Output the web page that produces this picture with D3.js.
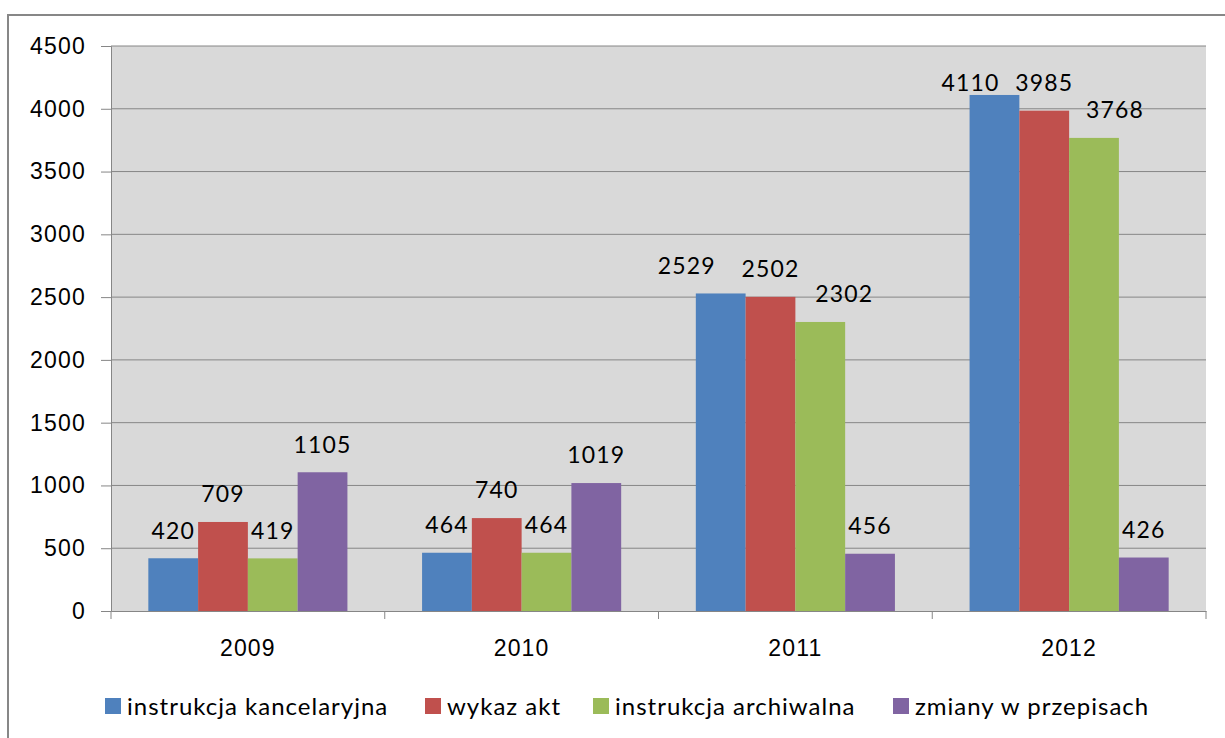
<!DOCTYPE html>
<html>
<head>
<meta charset="utf-8">
<script src="https://cdn.jsdelivr.net/npm/d3@7"></script>
<style>
  body { margin: 0; background: #fff; }
  svg { display: block; font-family: Lato, "Open Sans", sans-serif; }
</style>
</head>
<body>
<svg id="chart" width="1225" height="738"></svg>
<script>
// data
let years = ["2009", "2010", "2011", "2012"];
let seriesNames = ["instrukcja kancelaryjna", "wykaz akt", "instrukcja archiwalna", "zmiany w przepisach"];
let seriesColors = ["#4F81BD", "#C0504D", "#9BBB59", "#8064A2"];
let kancelaryjna = [420, 464, 2529, 4110];
let wykazAkt = [709, 740, 2502, 3985];
let archiwalna = [419, 464, 2302, 3768];
let zmiany = [1105, 1019, 456, 426];
let yTicks = [0, 500, 1000, 1500, 2000, 2500, 3000, 3500, 4000, 4500];

let series = [kancelaryjna, wykazAkt, archiwalna, zmiany];

// Excel moved a few labels sideways so they don't collide ("series-yearIndex": dx)
let labelNudge = {"0-2": -34, "2-2": 24, "0-3": -24, "2-3": 21};

let svg = d3.select("#chart");

// outer chart border (runs off the right and bottom edge like the source)
svg.append("rect")
    .attr("x", 8).attr("y", 15)
    .attr("width", 1240).attr("height", 740)
    .style("fill", "none")
    .style("stroke", "#878787")
    .style("stroke-width", 2);

let plot = {left: 111, top: 46, right: 1206, bottom: 611};

let y = d3.scaleLinear().domain([0, 4500]).range([plot.bottom, plot.top]);
let x0 = d3.scaleBand().domain(years).range([plot.left, plot.right]).padding(0);
let x1 = d3.scaleBand().domain(d3.range(series.length))
    .range([0, x0.bandwidth()]).paddingInner(0).paddingOuter(0.75);

// plot background
svg.append("rect")
    .attr("x", plot.left).attr("y", plot.top)
    .attr("width", plot.right - plot.left).attr("height", plot.bottom - plot.top)
    .style("fill", "#D9D9D9");

// gridlines + y axis
let yAxis = d3.axisLeft(y).tickValues(yTicks).tickFormat(d3.format("d")).tickSize(10).tickPadding(15);
let gy = svg.append("g").attr("transform", `translate(${plot.left},0)`).call(yAxis);
gy.select(".domain").style("stroke", "#868686");
gy.selectAll(".tick line").style("stroke", "#868686");
gy.selectAll(".tick text")
    .style("font-size", "23px").style("letter-spacing", "1.2px").style("fill", "#000");

svg.append("g").selectAll("line").data(yTicks.filter(d => d > 0)).enter().append("line")
    .attr("x1", plot.left).attr("x2", plot.right)
    .attr("y1", d => y(d)).attr("y2", d => y(d))
    .style("stroke", "#868686").style("stroke-width", 1);

// bars
let groups = svg.append("g").selectAll("g.year").data(years).enter().append("g")
    .attr("class", "year")
    .attr("transform", d => `translate(${x0(d)},0)`);

let cells = (d, i) => series.map((s, k) => ({k: k, i: i, v: s[i]}));

groups.selectAll("rect.data").data(cells).enter()
    .append("rect")
    .attr("class", "data")
    .attr("x", d => x1(d.k))
    .attr("y", d => y(d.v))
    .attr("width", x1.bandwidth())
    .attr("height", d => y(0) - y(d.v))
    .style("fill", d => seriesColors[d.k]);

// value labels (Excel keeps them inside the plot, so clamp at the top)
groups.selectAll("text.dataLabel").data(cells).enter()
    .append("text")
    .attr("class", "dataLabel")
    .attr("x", d => x1(d.k) + x1.bandwidth() / 2 + (labelNudge[d.k + "-" + d.i] || 0))
    .attr("y", d => Math.max(y(d.v) - 28, 83))
    .attr("dy", "0.36em")
    .attr("text-anchor", "middle")
    .style("font-size", "23px").style("letter-spacing", "1.2px").style("fill", "#000")
    .text(d => d.v);

// x axis
let xAxis = d3.axisBottom(x0).tickSize(0).tickPadding(29);
let gx = svg.append("g").attr("transform", `translate(0,${plot.bottom})`).call(xAxis);
gx.select(".domain").style("stroke", "#868686");
gx.selectAll(".tick text")
    .style("font-size", "23px").style("letter-spacing", "1.2px").style("fill", "#000");

// category separators below the axis
let bounds = years.map(d => x0(d)).concat([plot.right]);
svg.append("g").selectAll("line").data(bounds).enter().append("line")
    .attr("x1", d => d).attr("x2", d => d)
    .attr("y1", plot.bottom).attr("y2", plot.bottom + 8)
    .style("stroke", "#868686");

// legend
let legendX = [105, 425, 593, 893];
let legend = svg.append("g").selectAll("g").data(seriesNames).enter().append("g")
    .attr("transform", (d, i) => `translate(${legendX[i]},698)`);
legend.append("rect")
    .attr("width", 16).attr("height", 16)
    .style("fill", (d, i) => seriesColors[i]);
legend.append("text")
    .attr("x", 22).attr("y", 8).attr("dy", "0.36em")
    .style("font-size", "24px").style("letter-spacing", "1px").style("fill", "#000")
    .text(d => d);
</script>
</body>
</html>
